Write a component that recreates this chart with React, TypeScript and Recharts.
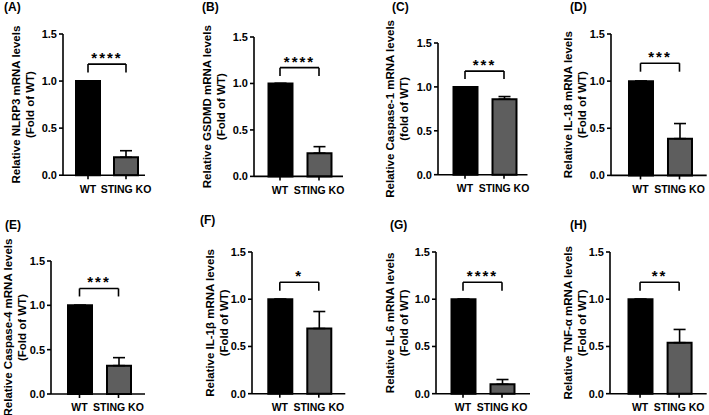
import React from 'react';
import {
  BarChart,
  Bar,
  Cell,
  XAxis,
  YAxis,
  ErrorBar,
  ReferenceLine
} from 'recharts';

// values (fold of WT)
const categories = ['WT', 'STING KO'];
const panelLetters = ['(A)', '(B)', '(C)', '(D)', '(E)', '(F)', '(G)', '(H)'];
const titles = [
  'Relative NLRP3 mRNA levels',
  'Relative GSDMD mRNA levels',
  'Relative Caspase-1 mRNA levels',
  'Relative IL-18 mRNA levels',
  'Relative Caspase-4 mRNA levels',
  'Relative IL-1β mRNA levels',
  'Relative IL-6 mRNA levels',
  'Relative TNF-α mRNA levels'
];
const subtitles = [
  '(Fold of WT)', '(Fold of WT)', '(fold of WT)', '(Fold of WT)',
  '(Fold of WT)', '(Fold of WT)', '(Fold of WT)', '(Fold of WT)'
];
const wtValues = [1, 1, 1, 1, 1, 1, 1, 1];
const koValues = [0.19, 0.25, 0.86, 0.39, 0.32, 0.69, 0.1, 0.54];
const koErrors = [0.07, 0.07, 0.03, 0.16, 0.09, 0.18, 0.05, 0.14];
const stars = ['****', '****', '***', '***', '***', '*', '****', '**'];
const bracketTop = [1.18, 1.17, 1.18, 1.19, 1.19, 1.18, 1.18, 1.18];
const bracketLeg = [1.09, 1.08, 1.09, 1.1, 1.1, 1.09, 1.09, 1.09];
const yTicks = [0, 0.5, 1.0, 1.5];

// panel placement on the page (y-axis x, px of 1.5, px of 0, x-axis end, paddings)
const layout = [
  { ax: 63, yTop: 34.3, yBase: 175.5, xEnd: 145, padL: 6, padR: 0, titleOff: -47, lx: 4, ly: 0 },
  { ax: 254, yTop: 37.3, yBase: 176.7, xEnd: 343, padL: 6.5, padR: 4.5, titleOff: -47, lx: 202, ly: 0 },
  { ax: 437.5, yTop: 43.3, yBase: 175, xEnd: 527, padL: 7.5, padR: 4, titleOff: -48, lx: 392, ly: 0 },
  { ax: 611, yTop: 34.3, yBase: 175.7, xEnd: 706.7, padL: 10, padR: 7.7, titleOff: -43, lx: 570, ly: 0 },
  { ax: 51, yTop: 261, yBase: 394, xEnd: 145, padL: 9, padR: 7, titleOff: -43, lx: 5, ly: 218 },
  { ax: 251.7, yTop: 252.3, yBase: 394, xEnd: 345, padL: 8.3, padR: 7, titleOff: -42, lx: 200, ly: 213 },
  { ax: 436, yTop: 252.3, yBase: 394, xEnd: 530, padL: 7.5, padR: 8.5, titleOff: -46, lx: 390, ly: 218 },
  { ax: 610, yTop: 252.3, yBase: 394, xEnd: 706.7, padL: 10.5, padR: 8, titleOff: -42, lx: 570, ly: 218 }
];

const FONT = '"Liberation Sans", Arial, sans-serif';
const TOP = 30;
const YW = 60;
const RIGHT = 20;

const Panel = ({ i }: { i: number }) => {
  const L = layout[i];
  const plotW = L.xEnd - L.ax;
  const plotH = L.yBase - L.yTop;
  const width = YW + plotW + RIGHT;
  const height = TOP + plotH + 30;

  const data = categories.map((name, k) => ({
    name,
    value: k === 0 ? wtValues[i] : koValues[i],
    err: k === 0 ? [0, 0] : [0, koErrors[i]]
  }));

  const renderTitle = (props: any) => {
    const vb = props.viewBox;
    const axisX = vb.x + vb.width;
    const cy = vb.y + vb.height / 2;
    const x1 = axisX + L.titleOff;
    const x2 = x1 + 14;
    return (
      <g fontFamily={FONT} fontWeight="bold" fontSize={11.5} fill="#000">
        <text x={x1} y={cy} textAnchor="middle" dominantBaseline="central" transform={`rotate(-90, ${x1}, ${cy})`}>
          {titles[i]}
        </text>
        <text x={x2} y={cy} textAnchor="middle" dominantBaseline="central" transform={`rotate(-90, ${x2}, ${cy})`}>
          {subtitles[i]}
        </text>
      </g>
    );
  };

  const renderStars = (props: any) => {
    const vb = props.viewBox;
    const cx = vb.x + vb.width / 2;
    return (
      <text x={cx} y={vb.y - 1} textAnchor="middle" fontFamily={FONT} fontWeight="bold" fontSize={15} letterSpacing={2} fill="#000">
        {stars[i]}
      </text>
    );
  };

  const line = { stroke: '#000', strokeWidth: 1.6 };

  return (
    <div style={{ position: 'absolute', left: L.ax - YW, top: L.yTop - TOP, width, height }}>
      <BarChart width={width} height={height} data={data} margin={{ top: TOP, right: RIGHT, left: 0, bottom: 0 }}>
        <XAxis
          dataKey="name"
          interval={0}
          padding={{ left: L.padL, right: L.padR }}
          height={30}
          tickSize={4}
          tickMargin={6}
          axisLine={line}
          tickLine={line}
          tick={{ fontSize: 10.5, fontWeight: 'bold', fill: '#000', fontFamily: FONT }}
        />
        <YAxis
          domain={[0, 1.5]}
          ticks={yTicks}
          width={YW}
          tickSize={4}
          tickMargin={2}
          axisLine={line}
          tickLine={line}
          tickFormatter={(v: number) => v.toFixed(1)}
          tick={{ fontSize: 11, fontWeight: 'bold', fill: '#000', fontFamily: FONT }}
          label={renderTitle}
        />
        <Bar dataKey="value" barSize={24} stroke="#000" strokeWidth={2} isAnimationActive={false}>
          {data.map((d, k) => (
            <Cell key={`c-${k}`} fill={k === 0 ? '#000' : '#5e5e5e'} />
          ))}
          <ErrorBar dataKey="err" direction="y" width={6} stroke="#000" strokeWidth={1.6} />
        </Bar>
        <ReferenceLine
          segment={[{ x: categories[0], y: bracketTop[i] }, { x: categories[1], y: bracketTop[i] }]}
          {...line}
          label={renderStars}
        />
        <ReferenceLine segment={[{ x: categories[0], y: bracketLeg[i] }, { x: categories[0], y: bracketTop[i] }]} {...line} />
        <ReferenceLine segment={[{ x: categories[1], y: bracketLeg[i] }, { x: categories[1], y: bracketTop[i] }]} {...line} />
      </BarChart>
    </div>
  );
};

export default function App() {
  return (
    <div style={{ position: 'absolute', left: 0, top: 0, width: 709, height: 415, background: '#fff', overflow: 'hidden' }}>
      {layout.map((L, i) => (
        <div
          key={`lbl-${i}`}
          style={{ position: 'absolute', left: L.lx, top: L.ly, fontFamily: FONT, fontWeight: 'bold', fontSize: 12, color: '#000' }}
        >
          {panelLetters[i]}
        </div>
      ))}
      {layout.map((L, i) => (
        <Panel key={`p-${i}`} i={i} />
      ))}
    </div>
  );
}
